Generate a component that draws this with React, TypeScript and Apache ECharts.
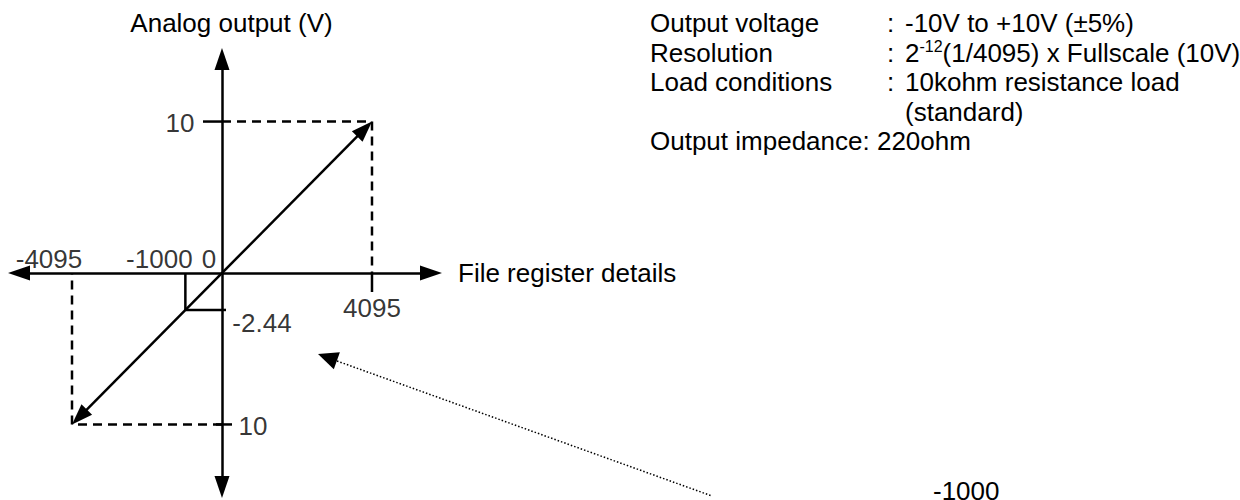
import React, { useEffect, useRef } from 'react';
import * as echarts from 'echarts';

// ---- data ----
const xTickValues = [-4095, -1000, 0, 4095];
const xTickLabels = ['-4095', '-1000', '0', '4095'];
const yTickValues = [10, -2.44, -10];
const yTickLabels = ['10', '-2.44', '10'];
const outputLine = [[-4095, -10], [4095, 10]];
const examplePoint = [-1000, -2.44];
const fullScalePos = [4095, 10];
const fullScaleNeg = [-4095, -10];
const specNames = ['Output voltage', 'Resolution', 'Load conditions', '', 'Output impedance: 220ohm'];
const specValues = ['-10V to +10V (±5%)', '{n|2}{sup|-12}{n|(1/4095) x Fullscale (10V)}', '10kohm resistance load', '(standard)', ''];
const specColons = [true, true, true, false, false];
const xAxisName = 'File register details';
const yAxisName = 'Analog output (V)';
const noteText = '-1000';

// ---- layout / style ----
const FONT = "'Liberation Sans', Arial, Helvetica, sans-serif";
const FS = 26;
const LW = 2.5;
const X_MIN = -5542;
const X_MAX = 5706;
const Y_MIN = -14.13;
const Y_MAX = 14.13;

export default function App() {
  const ref = useRef<HTMLDivElement>(null);

  useEffect(() => {
    if (!ref.current) return;
    const chart = echarts.init(ref.current, undefined, { renderer: 'svg' });

    const xLabelOffsets = [[-23, -14], [-26, -14], [-13, -14], [0, 35]];
    const yLabelOffsets = [[-42, 1], [40, 13], [31, 2]];

    const labelData = [
      ...xTickValues.map((v, i) => ({
        value: [v, 0],
        label: { formatter: xTickLabels[i], offset: xLabelOffsets[i] },
      })),
      ...yTickValues.map((v, i) => ({
        value: [0, v],
        label: { formatter: yTickLabels[i], offset: yLabelOffsets[i] },
      })),
    ];

    const tickData = [
      [0, yTickValues[0]],
      [0, yTickValues[2]],
      [0, yTickValues[1]],
      [xTickValues[3], 0],
    ];
    const tickSpecs = [
      { dir: 'h', from: -19, to: 0 },
      { dir: 'h', from: -6, to: 10 },
      { dir: 'h', from: 0, to: 4 },
      { dir: 'v', from: 0, to: 19 },
    ];

    const dashStyle = { color: '#000', width: LW, type: [9, 6] as number[] };

    const rowY = (i: number) => 23 + i * 29.5;
    const specGraphics: any[] = [];
    specNames.forEach((name, i) => {
      if (name) {
        specGraphics.push({
          type: 'text', x: 650, y: rowY(i),
          style: { text: name, fontSize: FS, fontFamily: FONT, fill: '#000', verticalAlign: 'middle', align: 'left' },
        });
      }
      if (specColons[i]) {
        specGraphics.push({
          type: 'text', x: 887, y: rowY(i),
          style: { text: ':', fontSize: FS, fontFamily: FONT, fill: '#000', verticalAlign: 'middle', align: 'left' },
        });
      }
      if (specValues[i]) {
        specGraphics.push({
          type: 'text', x: 905, y: rowY(i),
          style: {
            text: specValues[i],
            fontSize: FS, fontFamily: FONT, fill: '#000', verticalAlign: 'middle', align: 'left',
            rich: {
              n: { fontSize: FS, fontFamily: FONT, lineHeight: 29, fill: '#000' },
              sup: { fontSize: 16, fontFamily: FONT, lineHeight: 16, verticalAlign: 'top', fill: '#000' },
            },
          },
        });
      }
    });

    const option: any = {
      animation: false,
      grid: { left: 19, top: 59, width: 412, height: 428, containLabel: false },
      xAxis: {
        type: 'value', min: X_MIN, max: X_MAX,
        axisLine: { onZero: true, symbol: ['triangle', 'triangle'], symbolSize: [15, 22], lineStyle: { color: '#000', width: LW } },
        axisTick: { show: false }, axisLabel: { show: false }, splitLine: { show: false },
        name: xAxisName, nameLocation: 'end', nameGap: 27,
        nameTextStyle: { fontSize: FS, fontFamily: FONT, color: '#000', padding: [5, 0, 0, 0] },
      },
      yAxis: {
        type: 'value', min: Y_MIN, max: Y_MAX,
        axisLine: { onZero: true, symbol: ['triangle', 'triangle'], symbolSize: [15, 22], lineStyle: { color: '#000', width: LW } },
        axisTick: { show: false }, axisLabel: { show: false }, splitLine: { show: false },
        name: yAxisName, nameLocation: 'end', nameGap: 23,
        nameTextStyle: { fontSize: FS, fontFamily: FONT, color: '#000', padding: [0, 0, 0, 19] },
      },
      series: [
        {
          type: 'line', silent: true, symbol: 'none', lineStyle: dashStyle,
          data: [[0, fullScalePos[1]], fullScalePos, [fullScalePos[0], 0]],
        },
        {
          type: 'line', silent: true, symbol: 'none', lineStyle: dashStyle,
          data: [[0, fullScaleNeg[1]], fullScaleNeg, [fullScaleNeg[0], 0]],
        },
        {
          type: 'line', silent: true, symbol: 'none', lineStyle: { color: '#000', width: LW },
          data: [[examplePoint[0], 0], examplePoint, [0, examplePoint[1]]],
        },
        {
          type: 'custom', silent: true, clip: false,
          encode: { x: [0, 2], y: [1, 3] },
          data: [[outputLine[0][0], outputLine[0][1], outputLine[1][0], outputLine[1][1]]],
          renderItem: (params: any, api: any) => {
            const p1 = api.coord([api.value(0), api.value(1)]);
            const p2 = api.coord([api.value(2), api.value(3)]);
            const dx = p2[0] - p1[0];
            const dy = p2[1] - p1[1];
            const len = Math.hypot(dx, dy);
            const ux = dx / len;
            const uy = dy / len;
            const L = 21;
            const W = 7.5;
            const head = (tip: number[], d: number[]) => [
              [tip[0], tip[1]],
              [tip[0] - d[0] * L - d[1] * W, tip[1] - d[1] * L + d[0] * W],
              [tip[0] - d[0] * L + d[1] * W, tip[1] - d[1] * L - d[0] * W],
            ];
            return {
              type: 'group',
              children: [
                {
                  type: 'line',
                  shape: { x1: p1[0] + ux * 15, y1: p1[1] + uy * 15, x2: p2[0] - ux * 15, y2: p2[1] - uy * 15 },
                  style: { stroke: '#000', lineWidth: LW },
                },
                { type: 'polygon', shape: { points: head(p2, [ux, uy]) }, style: { fill: '#000' } },
                { type: 'polygon', shape: { points: head(p1, [-ux, -uy]) }, style: { fill: '#000' } },
              ],
            };
          },
        },
        {
          type: 'custom', silent: true, clip: false,
          data: tickData,
          renderItem: (params: any, api: any) => {
            const p = api.coord([api.value(0), api.value(1)]);
            const s = tickSpecs[params.dataIndex];
            const shape = s.dir === 'h'
              ? { x1: p[0] + s.from, y1: p[1], x2: p[0] + s.to, y2: p[1] }
              : { x1: p[0], y1: p[1] + s.from, x2: p[0], y2: p[1] + s.to };
            return { type: 'line', shape, style: { stroke: '#000', lineWidth: LW } };
          },
        },
        {
          type: 'scatter', silent: true, symbolSize: 1,
          itemStyle: { color: 'transparent' },
          label: {
            show: true, position: 'inside', color: '#000', fontSize: FS, fontFamily: FONT,
          },
          data: labelData,
        },
      ],
      graphic: [
        ...specGraphics,
        {
          type: 'text', x: 933, y: 478,
          style: { text: noteText, fontSize: FS, fontFamily: FONT, fill: '#000', verticalAlign: 'top', align: 'left' },
        },
        {
          type: 'line',
          shape: { x1: 337, y1: 361, x2: 712, y2: 496 },
          style: { stroke: '#000', lineWidth: 1.5, lineDash: [1.5, 2] },
        },
        {
          type: 'polygon',
          shape: { points: [[318, 354], [333.8, 369.3], [339.9, 352.3]] },
          style: { fill: '#000' },
        },
      ],
    };

    chart.setOption(option);
    return () => chart.dispose();
  }, []);

  return (
    <div
      ref={ref}
      style={{ position: 'fixed', left: 0, top: 0, width: 1240, height: 500, background: '#fff' }}
    />
  );
}
